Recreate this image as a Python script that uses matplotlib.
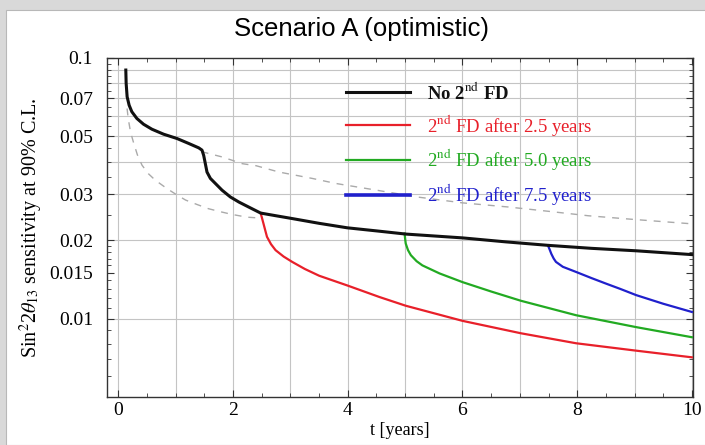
import matplotlib
matplotlib.use("Agg")
import matplotlib.pyplot as plt
from matplotlib.patches import Rectangle
from matplotlib.ticker import FixedLocator, NullFormatter

# values (t in years, sensitivity)
t_nofd = [0.128, 0.134, 0.151, 0.186, 0.233, 0.321, 0.437, 0.583, 0.787, 1.02,
          1.224, 1.40, 1.457, 1.486, 1.515, 1.544, 1.603, 1.69, 1.806, 1.95,
          2.10, 2.27, 2.48, 2.75, 3.03, 3.5, 3.99, 4.5, 5.01, 6.0, 6.75, 7.49,
          8.25, 9.03, 10.0]
s_nofd = [0.0899, 0.0799, 0.0710, 0.0659, 0.0622, 0.0586, 0.0557, 0.0533,
          0.0510, 0.0491, 0.0470, 0.0452, 0.0443, 0.0423, 0.0393, 0.0365,
          0.0345, 0.0330, 0.0311, 0.0293, 0.0280, 0.0268, 0.0254, 0.0248,
          0.0242, 0.0232, 0.0223, 0.0217, 0.0211, 0.0204, 0.0197, 0.0191,
          0.0186, 0.0182, 0.0176]

t_fd25 = [2.48, 2.51, 2.53, 2.56, 2.59, 2.66, 2.74, 2.88, 3.03, 3.25, 3.50,
          3.99, 4.55, 5.01, 6.00, 7.02, 7.98, 9.03, 10.0]
s_fd25 = [0.0254, 0.0240, 0.0231, 0.0218, 0.0206, 0.0193, 0.0183, 0.0173,
          0.0165, 0.0155, 0.0146, 0.0134, 0.0121, 0.0112, 0.0098, 0.00878,
          0.00804, 0.00753, 0.0071]

t_fd50 = [4.99, 5.0, 5.01, 5.05, 5.10, 5.2, 5.30, 5.6, 6.00, 6.5, 7.02, 7.98,
          9.03, 10.0]
s_fd50 = [0.0212, 0.0202, 0.0194, 0.0183, 0.0175, 0.0166, 0.0160, 0.0149,
          0.0138, 0.0127, 0.0117, 0.0103, 0.00927, 0.00848]

t_fd75 = [7.49, 7.52, 7.55, 7.59, 7.63, 7.75, 7.98, 8.25, 8.51, 8.75, 9.03,
          9.5, 10.0]
s_fd75 = [0.0191, 0.0184, 0.0177, 0.0170, 0.0165, 0.0158, 0.0151, 0.0143,
          0.0136, 0.0130, 0.0123, 0.0114, 0.0106]

# grey dashed reference curves
t_dash_lo = [0.15, 0.17, 0.21, 0.26, 0.33, 0.41, 0.52, 0.64, 0.84, 1.0, 1.17,
             1.37, 1.57, 1.78, 1.98, 2.24, 2.48]
s_dash_lo = [0.064, 0.0586, 0.052, 0.0476, 0.0425, 0.0388, 0.036, 0.034,
             0.0316, 0.030, 0.0285, 0.0274, 0.0264, 0.0257, 0.0251, 0.0245,
             0.0243]
t_dash_hi = [1.45, 1.81, 2.16, 2.40, 2.80, 3.38, 3.79, 4.50, 5.20, 6.00, 6.80,
             7.50, 8.20, 9.00, 10.0]
s_dash_hi = [0.0437, 0.0417, 0.0393, 0.0386, 0.0365, 0.0345, 0.0330, 0.0311,
             0.0293, 0.0278, 0.0268, 0.0258, 0.0248, 0.0240, 0.0231]

ytick_vals = [0.01, 0.015, 0.02, 0.03, 0.05, 0.07, 0.1]
ytick_labels = ["0.01", "0.015", "0.02", "0.03", "0.05", "0.07", "0.1"]

plt.rcParams["font.family"] = ["Liberation Serif", "DejaVu Serif"]
plt.rcParams["mathtext.fontset"] = "stix"

fig = plt.figure(figsize=(7.05, 4.45), dpi=100)
fig.patch.set_facecolor("#d9d9d9")
fig.patches.append(Rectangle((6 / 705, 0), 1, 1 - 10 / 445, transform=fig.transFigure,
                             facecolor="white", edgecolor="#b8b8b8", lw=0.8, zorder=-5))

ax = fig.add_axes([107 / 705, 1 - 397 / 445, 586 / 705, 339 / 445])
ax.set_yscale("log")
ax.set_xlim(-0.2, 10.02)
ax.set_ylim(0.005, 0.1)

# grid like the original
for gx in range(0, 11):
    ax.axvline(gx, color="#c4c4c4", lw=0.8, zorder=0)
for gy in [0.01, 0.02, 0.03, 0.04, 0.05, 0.06, 0.07, 0.08, 0.09]:
    ax.axhline(gy, color="#c4c4c4", lw=0.8, zorder=0)

ax.plot(t_dash_lo, s_dash_lo, color="#aaaaaa", lw=1.0, ls=(0, (5, 5)), zorder=1)
ax.plot(t_dash_hi, s_dash_hi, color="#aaaaaa", lw=1.0, ls=(0, (5, 5)), zorder=1)

ax.plot(t_fd25, s_fd25, color="#e8202a", lw=1.6, label=r"2$^{\mathrm{nd}}$ FD after 2.5 years", zorder=3)
ax.plot(t_fd50, s_fd50, color="#22aa22", lw=1.6, label=r"2$^{\mathrm{nd}}$ FD after 5.0 years", zorder=3)
ax.plot(t_fd75, s_fd75, color="#2020cc", lw=1.6, label=r"2$^{\mathrm{nd}}$ FD after 7.5 years", zorder=3)
ax.plot(t_nofd, s_nofd, color="#111111", lw=2.2, label=r"No 2$^{\mathrm{nd}}$ FD", zorder=4)

handles, labels = ax.get_legend_handles_labels()
order = [3, 0, 1, 2]
leg = ax.legend([handles[i] for i in order], [labels[i] for i in order],
                loc="upper left", bbox_to_anchor=(0.392, 0.957), frameon=False,
                fontsize=13.5, handlelength=3.4, handletextpad=0.9,
                labelspacing=0.52, borderpad=0, labelcolor="linecolor")
leg.get_lines()[3].set_linewidth(2.6)
leg.get_texts()[0].set_fontweight("bold")

ax.set_xticks([0, 2, 4, 6, 8, 10])
ax.xaxis.set_minor_locator(FixedLocator([x * 0.5 for x in range(0, 21)]))
ax.yaxis.set_major_locator(FixedLocator(ytick_vals))
ax.set_yticklabels(ytick_labels)
minor_y = [0.005, 0.006, 0.007, 0.008, 0.009] + [0.01 + 0.001 * i for i in range(1, 10)] + \
          [0.02 + 0.005 * i for i in range(1, 17)]
ax.yaxis.set_minor_locator(FixedLocator(minor_y))
ax.yaxis.set_minor_formatter(NullFormatter())
ax.tick_params(which="both", direction="in", top=True, right=True, labelsize=14, color="#333333")
ax.tick_params(axis="y", which="major", pad=10)
ax.tick_params(which="major", length=5, width=0.8)
ax.tick_params(which="minor", length=3, width=0.6)
for sp in ax.spines.values():
    sp.set_linewidth(1.0)
    sp.set_color("#333333")

ax.set_xlabel("t [years]", fontsize=13, labelpad=2)
ax.set_ylabel(r"Sin$^2$2$\theta_{13}$ sensitivity at 90% C.L.", fontsize=14.5, labelpad=3)

fig.text(361 / 705, 1 - 29 / 445, "Scenario A (optimistic)", ha="center", va="center",
         fontsize=18.5, family=["Liberation Sans", "DejaVu Sans"])

fig.savefig("out.png", dpi=100)
